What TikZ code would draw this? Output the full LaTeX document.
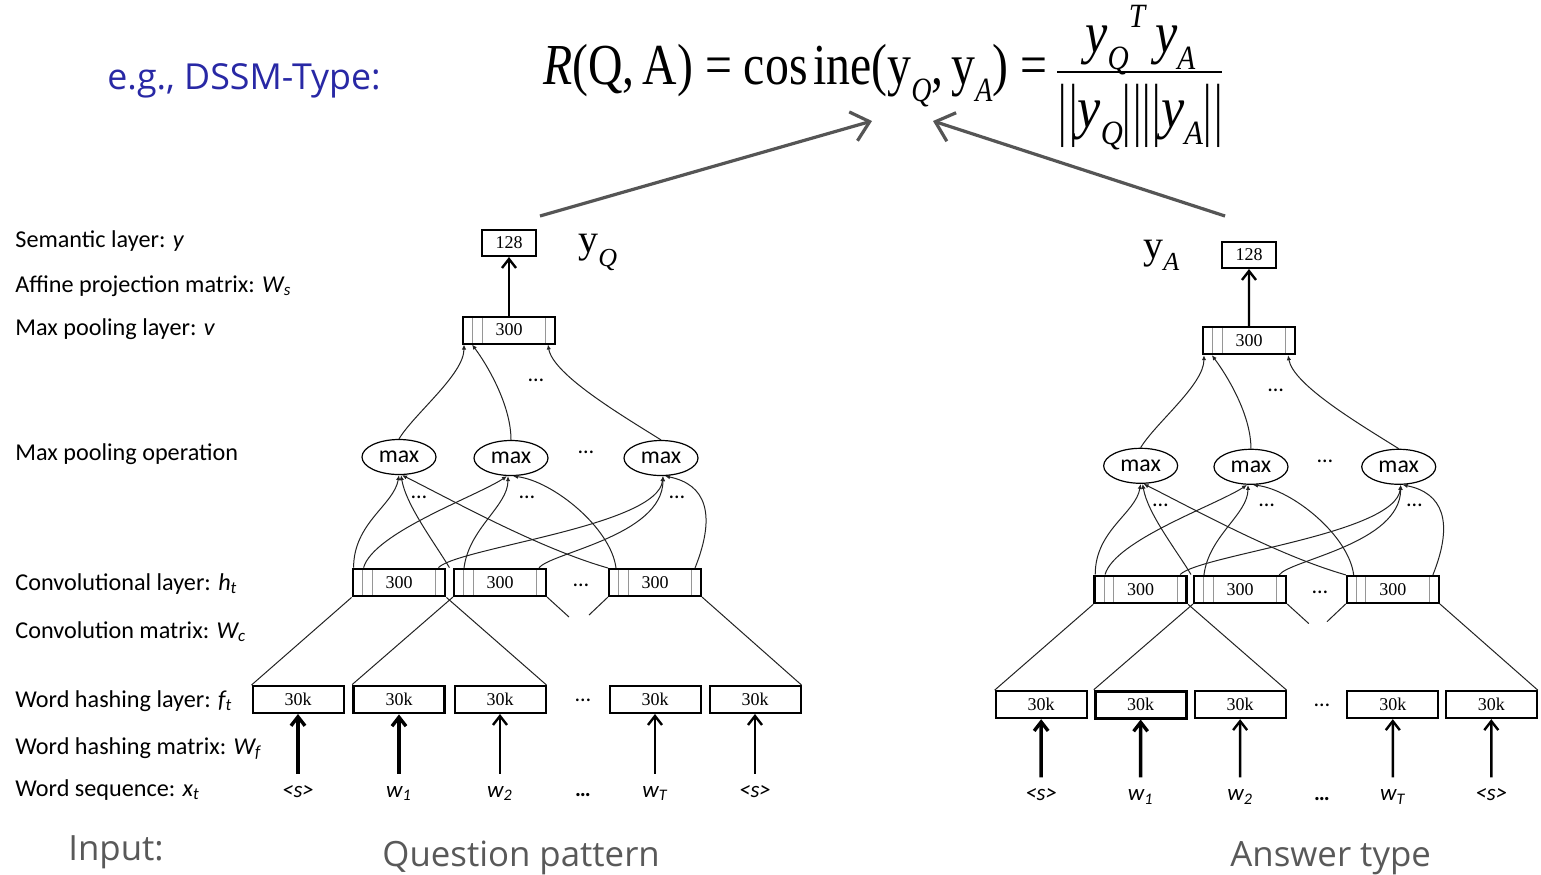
\documentclass[tikz,border=0pt]{standalone}
\usepackage{fontspec}
\usepackage{graphicx}
\setmainfont{Carlito}
\newfontfamily\tnr{Liberation Serif}
\newfontfamily\osans{Open Sans}
\usetikzlibrary{arrows.meta,shapes.geometric}

\definecolor{egblue}{RGB}{40,40,165}
\definecolor{capgray}{RGB}{89,89,89}
\definecolor{arrgray}{RGB}{85,85,85}
\definecolor{curvecol}{RGB}{35,35,35}
\definecolor{slotgray}{RGB}{150,150,150}

\newcommand{\sbq}[1]{\raisebox{-0.3em}{\fontsize{17}{17}\selectfont\textit{#1}}}
\newcommand{\dbar}{\raisebox{-0.1em}{\scalebox{0.8}[1.2]{|\kern0.06em|}}}

\tikzset{
  unitbox/.style={draw, line width=1pt, inner sep=0pt, font=\tnr\fontsize{9}{9}\selectfont},
  sembox/.style={unitbox, minimum width=27pt, minimum height=13pt},
  hashbox/.style={unitbox, minimum width=45.5pt, minimum height=13.5pt},
  slotbox/.style={unitbox, minimum width=46pt, minimum height=13.5pt,
    path picture={\draw[slotgray, line width=0.5pt]
      ([xshift=4.75pt]path picture bounding box.south west) -- ([xshift=4.75pt]path picture bounding box.north west)
      ([xshift=9.5pt]path picture bounding box.south west) -- ([xshift=9.5pt]path picture bounding box.north west)
      ([xshift=-4.75pt]path picture bounding box.south east) -- ([xshift=-4.75pt]path picture bounding box.north east);}},
  boldbox/.style={line width=1.4pt},
  maxnode/.style={draw, ellipse, line width=0.6pt, minimum width=37pt, minimum height=17.5pt, inner sep=0pt, font=\fontsize{11.9}{12}\selectfont},
  wordlab/.style={font=\fontsize{11.5}{12}\selectfont\itshape, text height=7pt, text depth=2pt, inner ysep=4.5pt, inner xsep=0pt},
  inarrow/.style={line width=1.2pt, -{Straight Barb[length=4.5pt,width=7pt]}},
  thickin/.style={line width=1.7pt},
  curve/.style={curvecol, line width=0.5pt, -{Latex[length=2.5pt,width=2.2pt]}},
  convline/.style={curvecol, line width=0.5pt},
  dotlab/.style={font=\fontsize{11}{12}\selectfont, inner sep=0pt},
  sidelab/.style={anchor=base west, inner sep=0pt, font=\fontsize{12.1}{14}\selectfont},
  caplab/.style={anchor=base west, inner sep=0pt, font=\osans\fontsize{17.4}{20}\selectfont, text=capgray},
  bigarrow/.style={arrgray, line width=1.6pt, -{Straight Barb[length=8.5pt,width=15pt]}},
}

\newcommand{\dssmnet}[1]{%
\node[sembox] (#1s) at (509,243) {128};
\node[slotbox] (#1p) at (509,330) {300};
\node[maxnode] (#1m1) at (399,457) {max};
\node[maxnode] (#1m2) at (511,458) {max};
\node[maxnode] (#1m3) at (661,458) {max};
\node[slotbox, boldbox] (#1c1) at (399,582.5) {300};
\node[slotbox] (#1c2) at (500,582.5) {300};
\node[slotbox] (#1c3) at (655,582.5) {300};
\node[hashbox] (#1h1) at (298,699.5) {30k};
\node[hashbox, boldbox] (#1h2) at (399,699.5) {30k};
\node[hashbox] (#1h3) at (500,699.5) {30k};
\node[hashbox] (#1h4) at (655,699.5) {30k};
\node[hashbox] (#1h5) at (755,699.5) {30k};
\node[wordlab] (#1w1) at (298,792) {<s>};
\node[wordlab] (#1w2) at (399,792) {w\textsubscript{1}};
\node[wordlab] (#1w3) at (500,792) {w\textsubscript{2}};
\node[wordlab] (#1w4) at (655,792) {w\textsubscript{T}};
\node[wordlab] (#1w5) at (755,792) {<s>};
\node[dotlab] (#1d1) at (536,380) {…};
\node[dotlab] (#1d2) at (586,452) {…};
\node[dotlab] (#1d3) at (419,497) {…};
\node[dotlab] (#1d4) at (527,497) {…};
\node[dotlab] (#1d5) at (677,497) {…};
\node[dotlab] (#1d6) at (581,585) {…};
\node[dotlab] (#1d7) at (583,700) {…};
\node[dotlab, font=\fontsize{11}{12}\selectfont\bfseries] (#1d8) at (583,795) {…};
\draw[inarrow, thickin] (#1w1) -- (#1h1);
\draw[inarrow, thickin] (#1w2) -- (#1h2);
\draw[inarrow] (#1w3) -- (#1h3);
\draw[inarrow] (#1w4) -- (#1h4);
\draw[inarrow] (#1w5) -- (#1h5);
\draw[inarrow] (#1p) -- (#1s);
\coordinate (#1e1) at ([xshift=11pt,yshift=-10pt]#1c2.south east);
\coordinate (#1e2) at ([xshift=-9.5pt,yshift=-9pt]#1c3.south west);
\draw[convline] (#1c1.south west) -- (#1h1.north west);
\draw[convline] (#1c1.south east) -- (#1h3.north east);
\draw[convline] (#1c2.south west) -- (#1h2.north west);
\draw[convline] (#1c3.south east) -- (#1h5.north east);
\draw[convline] (#1c2.south east) -- (#1e1);
\draw[convline] (#1c3.south west) -- (#1e2);
\draw[curve] ([xshift=1pt]#1c1.north west) .. controls +(0,-45) and +(-5,30) .. (#1m1.south);
\draw[curve] ([xshift=1.5pt]#1c1.north east) .. controls +(-15,-25) and +(5,30) .. ([xshift=1pt]#1m1.south);
\draw[curve] (#1c3.north west) .. controls +(-70,-20) and +(50,25) .. ([xshift=1.5pt]#1m1.south);
\draw[curve] ([xshift=6pt]#1c1.north west) .. controls +(10,-35) and +(-30,20) .. ([xshift=-2pt]#1m2.south);
\draw[curve] ([xshift=5.5pt]#1c2.north west) .. controls +(5,-40) and +(0,30) .. ([xshift=-1.5pt]#1m2.south);
\draw[curve] ([xshift=4pt]#1c3.north west) .. controls +(-5,-40) and +(40,5) .. ([xshift=1pt]#1m2.south);
\draw[curve] ([xshift=-4pt]#1c1.north east) .. controls +(20,-20) and +(-5,50) .. ([xshift=1pt]#1m3.south);
\draw[curve] ([xshift=-4pt]#1c2.north east) .. controls +(10,-15) and +(0,60) .. ([xshift=1pt]#1m3.south);
\draw[curve] ([xshift=-3.5pt]#1c3.north east) .. controls +(22,-55) and +(40,8) .. ([xshift=2pt]#1m3.south);
\draw[curve] (#1m1.north) .. controls +(15,-25) and +(0,30) .. ([xshift=1pt]#1p.south west);
\draw[curve] (#1m2.north) .. controls +(0,-35) and +(15,20) .. ([xshift=5pt]#1p.south west);
\draw[curve] (#1m3.north) .. controls +(-40,-25) and +(5,30) .. ([xshift=-4pt]#1p.south east);
}

\begin{document}
\begin{tikzpicture}[x=0.5pt,y=-0.5pt]
\useasboundingbox (0,0) rectangle (1541,874);
\fill[white] (0,0) rectangle (1541,874);

% title and formula
\node[anchor=base west, inner sep=0pt, font=\osans\fontsize{17.9}{20}\selectfont, text=egblue] (eg) at (107,89) {e.g., DSSM-Type:};
\node[anchor=base west, inner sep=0pt] (feq) at (543,84) {\resizebox{252pt}{\height}{\tnr\fontsize{29}{30}\selectfont\textit{R}(Q,\,A) = cos\hspace{0.12em}ine(y\sbq{Q},\,y\sbq{A}) =}};
\node[anchor=base west, inner sep=0pt] (fnum) at (1085,52) {\resizebox{55pt}{\height}{\tnr\fontsize{29}{30}\selectfont\textit{y}\sbq{Q}\raisebox{0.42em}{\fontsize{17}{17}\selectfont\textit{T}}\,\textit{y}\sbq{A}}};
\node[anchor=base west, inner sep=0pt] (fden) at (1058,127) {\resizebox{82pt}{\height}{\tnr\fontsize{29}{30}\selectfont\dbar\textit{y}\sbq{Q}\dbar\dbar\textit{y}\sbq{A}\dbar}};
\coordinate (fb1) at (1057,72);
\coordinate (fb2) at (1222,72);
\draw[line width=1pt] (fb1) -- (fb2);

% side labels
\node[sidelab] (l1) at (15,247) {Semantic layer: \textit{y}};
\node[sidelab] (l2) at (15,292) {Affine projection matrix: \textit{W\textsubscript{s}}};
\node[sidelab] (l3) at (15,335) {Max pooling layer: \textit{v}};
\node[sidelab] (l4) at (15,460) {Max pooling operation};
\node[sidelab] (l5) at (15,590) {Convolutional layer: \textit{h\textsubscript{t}}};
\node[sidelab] (l6) at (15,638) {Convolution matrix: \textit{W\textsubscript{c}}};
\node[sidelab] (l7) at (15,707) {Word hashing layer: \textit{f\textsubscript{t}}};
\node[sidelab] (l8) at (15,754) {Word hashing matrix: \textit{W\textsubscript{f}}};
\node[sidelab] (l9) at (15,796) {Word sequence: \textit{x\textsubscript{t}}};

% networks
\dssmnet{q}
\begin{scope}[shift={(1249,255)}, scale=0.985, shift={(-509,-243)}]
\dssmnet{a}
\end{scope}

\node[anchor=base west, inner sep=0pt, font=\tnr\fontsize{20}{20}\selectfont] (yq) at (578,252) {y\raisebox{-7pt}{\fontsize{13}{13}\selectfont\textit{Q}}};
\node[anchor=base west, inner sep=0pt, font=\tnr\fontsize{20}{20}\selectfont] (ya) at (1143,258) {y\raisebox{-6pt}{\fontsize{13}{13}\selectfont\textit{A}}};

% arrows to the formula
\coordinate (tq) at ([xshift=1.5pt,yshift=6.5pt]qs.north east);
\coordinate (ta) at ([xshift=2pt,yshift=12.5pt]as.north west);
\coordinate (hq) at (872,121);
\coordinate (ha) at (933,121);
\draw[bigarrow] (tq) -- (hq);
\draw[bigarrow] (ta) -- (ha);

% captions
\node[caplab] (cin) at (68,860) {Input:};
\node[caplab] (cq) at (382,866) {Question pattern};
\node[caplab] (ca) at (1230,866) {Answer type};
\end{tikzpicture}
\end{document}
